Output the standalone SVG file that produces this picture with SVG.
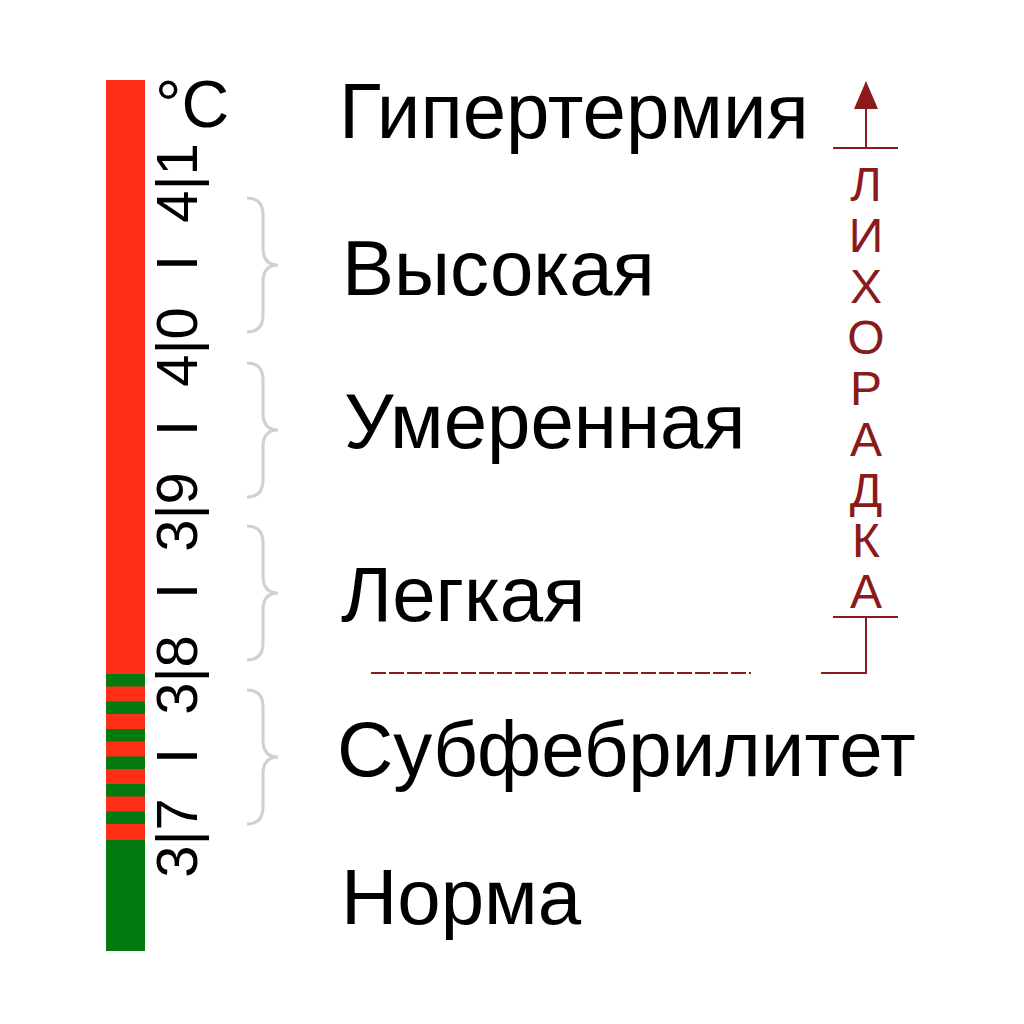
<svg xmlns="http://www.w3.org/2000/svg" width="1024" height="1024" viewBox="0 0 1024 1024">
<style>
.lbl{font-family:"Liberation Sans",Arial,sans-serif;font-size:78px;fill:#000}
.tick{font-family:"Liberation Sans",Arial,sans-serif;font-size:58px;fill:#000;text-anchor:middle}
.fev{font-family:"Liberation Sans",Arial,sans-serif;font-size:48px;fill:#8B1A1A;text-anchor:middle}
.brace{fill:none;stroke:#D2CFCD;stroke-width:3}
.dr{stroke:#8B1A1A;stroke-width:2;fill:none}
.red{fill:#FF2E17}
.grn{fill:#037A10}
</style>
<rect width="1024" height="1024" fill="#fff"/>
<g id="bar">
<rect class="red" x="106" y="80" width="39" height="871"/>
<rect class="grn" x="106" y="674" width="39" height="12.5"/>
<rect class="grn" x="106" y="701.5" width="39" height="12.5"/>
<rect class="grn" x="106" y="729" width="39" height="12.5"/>
<rect class="grn" x="106" y="756.5" width="39" height="12.5"/>
<rect class="grn" x="106" y="784" width="39" height="12.5"/>
<rect class="grn" x="106" y="811.5" width="39" height="12.5"/>
<rect class="grn" x="106" y="840" width="39" height="111"/>
</g>
<g id="scale">
<text x="155" y="127" style="font-family:'Liberation Sans',Arial,sans-serif;font-size:66px">°C</text>
<text class="tick" transform="translate(197,183) rotate(-90)">4|1</text>
<text class="tick" transform="translate(197,347) rotate(-90)">4|0</text>
<text class="tick" transform="translate(197,512) rotate(-90)">3|9</text>
<text class="tick" transform="translate(197,675) rotate(-90)">3|8</text>
<text class="tick" transform="translate(197,838) rotate(-90)">3|7</text>
<text class="tick" transform="translate(197,263) rotate(-90)">I</text>
<text class="tick" transform="translate(197,428) rotate(-90)">I</text>
<text class="tick" transform="translate(197,591) rotate(-90)">I</text>
<text class="tick" transform="translate(197,756) rotate(-90)">I</text>
</g>
<g id="braces">
<path class="brace" d="M247 198 Q263 198 263 215 L263 248 Q263 265 278 265 Q263 265 263 282 L263 315 Q263 332 247 332"/>
<path class="brace" d="M247 363 Q263 363 263 380 L263 413 Q263 430 278 430 Q263 430 263 447 L263 480 Q263 497 247 497"/>
<path class="brace" d="M247 526 Q263 526 263 543 L263 576 Q263 593 278 593 Q263 593 263 610 L263 643 Q263 660 247 660"/>
<path class="brace" d="M247 690 Q263 690 263 707 L263 740 Q263 757 278 757 Q263 757 263 774 L263 807 Q263 824 247 824"/>
</g>
<g id="labels">
<text id="hyper" class="lbl" x="339" y="138">Гипертермия</text>
<text id="high" class="lbl" x="342" y="295">Высокая</text>
<text id="moderate" class="lbl" x="344" y="448">Умеренная</text>
<text id="mild" class="lbl" x="341" y="621">Легкая</text>
<text id="subfeb" class="lbl" x="337" y="776">Субфебрилитет</text>
<text id="norm" class="lbl" x="341" y="924">Норма</text>
</g>
<g id="fever">
<text class="fev"><tspan x="866" y="201">Л</tspan><tspan x="866" y="252">И</tspan><tspan x="866" y="303">Х</tspan><tspan x="866" y="354">О</tspan><tspan x="866" y="405">Р</tspan><tspan x="866" y="456">А</tspan><tspan x="866" y="507">Д</tspan><tspan x="866" y="557">К</tspan><tspan x="866" y="608">А</tspan></text>
</g>
<g id="connectors">
<line class="dr" x1="866" y1="148" x2="866" y2="104"/>
<polygon points="866,81 878,109 854,109" fill="#8B1A1A"/>
<line class="dr" x1="833" y1="148" x2="898" y2="148"/>
<line class="dr" x1="833" y1="617" x2="898" y2="617"/>
<polyline class="dr" points="866,617 866,673 821,673"/>
<line class="dr" x1="371" y1="673" x2="751" y2="673" stroke-width="2.5" stroke-dasharray="15 3"/>
</g>
</svg>
